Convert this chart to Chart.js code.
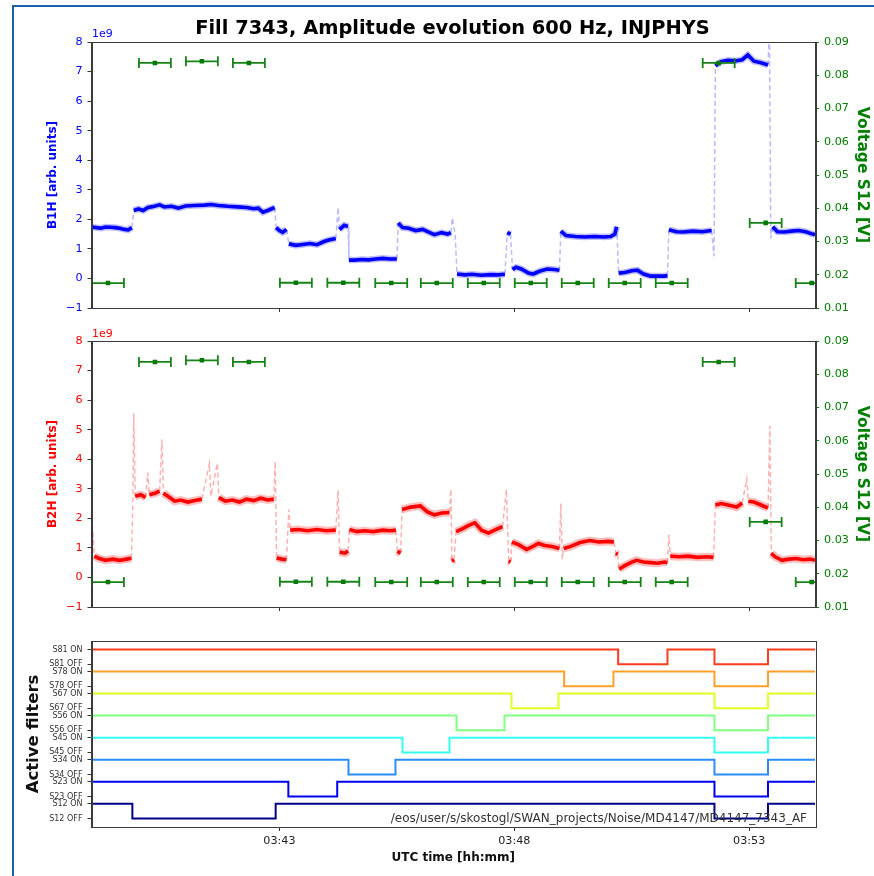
<!DOCTYPE html>
<html>
<head>
<meta charset="utf-8">
<script src="https://cdn.jsdelivr.net/npm/chart.js@4.4.1/dist/chart.umd.min.js"></script>
<style>
body { margin: 0; background: #fff; width: 874px; height: 876px; overflow: hidden; position: relative; font-family: 'DejaVu Sans', sans-serif; }
canvas { position: absolute; left: 0; }
.txt { position: absolute; white-space: nowrap; line-height: 1; }
#frame { position: absolute; left: 12px; top: 5px; width: 870px; height: 880px; border-left: 2px solid #1b5fab; border-top: 2px solid #1b5fab; }
#title { left: 0; width: 905px; text-align: center; top: 18px; font-weight: bold; font-size: 19.4px; color: #000; }
#off1 { left: 92px; top: 28px; font-size: 11px; color: #0000ff; }
#off2 { left: 92px; top: 328px; font-size: 11px; color: #ff0000; }
#path { right: 67px; top: 812px; font-size: 12px; color: #333; }
</style>
</head>
<body>
<div id="frame"></div>
<canvas id="c1" width="874" height="320" style="top:0"></canvas>
<canvas id="c2" width="874" height="300" style="top:320px"></canvas>
<canvas id="c3" width="874" height="246" style="top:630px"></canvas>
<div class="txt" id="title">Fill 7343, Amplitude evolution 600 Hz, INJPHYS</div>
<div class="txt" id="off1">1e9</div>
<div class="txt" id="off2">1e9</div>
<div class="txt" id="path">/eos/user/s/skostogl/SWAN_projects/Noise/MD4147/MD4147_7343_AF</div>
<script>
// time axis in minutes after 03:00 UTC
const xMin = 39.0, xMax = 54.4;
const timeTicks = [43, 48, 53];
const ampTicks = [-1, 0, 1, 2, 3, 4, 5, 6, 7, 8];
const voltTicks = [0.01, 0.02, 0.03, 0.04, 0.05, 0.06, 0.07, 0.08, 0.09];

// B1H amplitude (units of 1e9)
const b1hTime = [39.00, 39.10, 39.20, 39.30, 39.40, 39.50, 39.60, 39.70, 39.78, 39.86,
  39.90, 40.00, 40.10, 40.20, 40.30, 40.45, 40.55, 40.70, 40.85, 41.00, 41.20, 41.40, 41.55, 41.70, 41.90, 42.10, 42.30, 42.45, 42.55, 42.65, 42.75, 42.90,
  42.93, 43.00, 43.07, 43.15,
  43.20, 43.35, 43.50, 43.65, 43.80, 43.95, 44.05, 44.20,
  44.25, 44.28, 44.38, 44.46,
  44.48, 44.60, 44.75, 44.90, 45.05, 45.20, 45.35, 45.50,
  45.53, 45.62, 45.75, 45.90, 46.05, 46.20, 46.30, 46.45, 46.58, 46.65, 46.68, 46.74,
  46.78, 46.95, 47.10, 47.30, 47.50, 47.65, 47.80,
  47.85, 47.92,
  47.96, 48.04, 48.15, 48.30, 48.40, 48.55, 48.70, 48.85, 48.96,
  48.99, 49.10, 49.30, 49.50, 49.70, 49.90, 50.05, 50.14, 50.18,
  50.22, 50.35, 50.50, 50.62, 50.75, 50.90, 51.05, 51.20, 51.26,
  51.29, 51.45, 51.60, 51.80, 52.00, 52.20,
  52.25, 52.28, 52.40, 52.55, 52.70, 52.85, 52.97, 53.10, 53.25, 53.40,
  53.43, 53.46, 53.50, 53.60, 53.75, 53.90, 54.05, 54.20, 54.35, 54.40];
const b1hValue = [1.74, 1.72, 1.70, 1.74, 1.73, 1.72, 1.70, 1.66, 1.64, 1.72,
  2.30, 2.35, 2.30, 2.40, 2.43, 2.49, 2.42, 2.44, 2.38, 2.45, 2.47, 2.48, 2.50, 2.47, 2.44, 2.42, 2.40, 2.36, 2.38, 2.24, 2.30, 2.40,
  1.72, 1.62, 1.56, 1.66,
  1.17, 1.12, 1.15, 1.18, 1.14, 1.25, 1.30, 1.35,
  2.40, 1.65, 1.80, 1.76,
  0.62, 0.62, 0.64, 0.63, 0.66, 0.68, 0.66, 0.66,
  1.88, 1.72, 1.70, 1.62, 1.66, 1.55, 1.48, 1.55, 1.50, 1.55, 2.05, 1.50,
  0.15, 0.12, 0.14, 0.11, 0.13, 0.12, 0.14,
  1.55, 1.50,
  0.30, 0.38, 0.32, 0.18, 0.15, 0.25, 0.32, 0.30, 0.28,
  1.60, 1.45, 1.42, 1.40, 1.42, 1.40, 1.42, 1.50, 1.75,
  0.18, 0.20, 0.26, 0.28, 0.15, 0.08, 0.08, 0.08, 0.10,
  1.65, 1.58, 1.57, 1.60, 1.58, 1.62,
  0.75, 7.20, 7.33, 7.38, 7.36, 7.40, 7.56, 7.35, 7.30, 7.22,
  8.50, 1.35, 1.75, 1.58, 1.57, 1.60, 1.62, 1.58, 1.50, 1.48];

// B2H amplitude (units of 1e9)
const b2hTime = [39.00, 39.03, 39.06, 39.15, 39.30, 39.45, 39.60, 39.75, 39.85,
  39.88, 39.90, 39.93, 40.05, 40.15, 40.20, 40.23, 40.35, 40.45, 40.50, 40.53, 40.65, 40.77, 40.90, 41.05, 41.20, 41.35, 41.51, 41.54, 41.68, 41.71,
  41.85, 42.00, 42.15, 42.30, 42.45, 42.60, 42.75, 42.88, 42.91,
  42.94, 43.05, 43.15,
  43.20, 43.23, 43.40, 43.60, 43.80, 44.00, 44.20, 44.25,
  44.28, 44.40, 44.46,
  44.49, 44.65, 44.80, 45.00, 45.20, 45.35, 45.48,
  45.51, 45.58,
  45.61, 45.80, 46.00, 46.15, 46.30, 46.45, 46.62, 46.65,
  46.67, 46.72,
  46.76, 46.90, 47.05, 47.16, 47.30, 47.45, 47.60, 47.75, 47.83,
  47.88, 47.92,
  47.95, 48.10, 48.26, 48.40, 48.51, 48.65, 48.80, 48.96, 48.99,
  49.02, 49.05, 49.20, 49.40, 49.60, 49.80, 50.00, 50.12,
  50.16, 50.20,
  50.23, 50.35, 50.50, 50.60, 50.75, 50.90, 51.05, 51.20, 51.26, 51.29,
  51.32, 51.50, 51.70, 51.90, 52.10, 52.24,
  52.28, 52.40, 52.55, 52.73, 52.85, 52.95, 52.98, 53.10, 53.25, 53.40, 53.44,
  53.47, 53.55, 53.70, 53.85, 54.00, 54.15, 54.30, 54.40];
const b2hValue = [0.75, 1.55, 0.72, 0.65, 0.58, 0.62, 0.58, 0.62, 0.65,
  2.55, 5.55, 2.75, 2.80, 2.70, 3.55, 2.80, 2.85, 2.92, 4.67, 2.85, 2.72, 2.58, 2.62, 2.55, 2.60, 2.65, 3.86, 2.75, 3.86, 2.70,
  2.58, 2.62, 2.55, 2.65, 2.60, 2.68, 2.62, 2.65, 3.92,
  0.66, 0.62, 0.60,
  2.30, 1.60, 1.62, 1.58, 1.62, 1.58, 1.60, 2.95,
  0.85, 0.82, 0.90,
  1.62, 1.55, 1.58, 1.55, 1.60, 1.58, 1.60,
  0.88, 0.82,
  2.30, 2.38, 2.42, 2.22, 2.12, 2.18, 2.20, 2.98,
  0.55, 0.60,
  1.55, 1.65, 1.78, 1.85, 1.60, 1.50, 1.62, 1.72, 2.98,
  0.55, 0.52,
  1.20, 1.10, 0.95, 1.05, 1.15, 1.08, 1.05, 0.98, 2.50,
  0.62, 0.98, 1.05, 1.18, 1.25, 1.20, 1.22, 1.20,
  0.82, 0.78,
  0.28, 0.40, 0.52, 0.58, 0.52, 0.50, 0.48, 0.52, 0.50, 1.44,
  0.72, 0.70, 0.72, 0.68, 0.70, 0.68,
  2.45, 2.50, 2.45, 2.38, 2.52, 3.35, 2.58, 2.55, 2.45, 2.35, 5.12,
  0.82, 0.70, 0.58, 0.62, 0.64, 0.60, 0.62, 0.58];

// Voltage S12 [V], one reading per minute, horizontal error of +-20 s
const voltTime = [39.35, 40.35, 41.35, 42.35, 43.35, 44.36, 45.38, 46.35, 47.35, 48.35, 49.35, 50.35, 51.35, 52.35, 53.35, 54.33];
const voltValue = [0.0175, 0.0837, 0.0842, 0.0837, 0.0176, 0.0176, 0.0175, 0.0175, 0.0175, 0.0175, 0.0175, 0.0175, 0.0175, 0.0837, 0.0356, 0.0175];
const voltErr = 0.34;

// Active filters: times at which each filter toggles (starts ON)
const filterNames = ['S12', 'S23', 'S34', 'S45', 'S56', 'S67', 'S78', 'S81'];
const filterColors = ['#00008b', '#0000f5', '#2a8cff', '#33ffee', '#80ff80', '#e2ff1e', '#ffa028', '#ff3c1e'];
const filterSwitches = [
  [39.87, 42.92, 52.26, 53.40],
  [43.19, 44.23, 52.26, 53.40],
  [44.47, 45.47, 52.26, 53.40],
  [45.62, 46.62, 52.26, 53.40],
  [46.77, 47.79, 52.26, 53.40],
  [47.94, 48.94, 52.26, 53.40],
  [49.06, 50.11, 52.26, 53.40],
  [50.21, 51.26, 52.26, 53.40]
];

const FONT = 'DejaVu Sans';
Chart.defaults.font.family = FONT;
Chart.defaults.color = '#222';

const pts = (ts, vs) => ts.map((t, i) => ({ x: t, y: vs[i] }));
const fmtTime = v => '03:' + String(v).padStart(2, '0');
const minus = v => String(v).replace('-', '\u2212');
const isJump = ctx => Math.abs(ctx.p1.parsed.y - ctx.p0.parsed.y) > 0.3;

const frame = {
  id: 'frame',
  afterDraw(chart) {
    const a = chart.chartArea, ctx = chart.ctx;
    ctx.save();
    ctx.strokeStyle = '#3a3a3a';
    ctx.lineWidth = 1;
    ctx.strokeRect(Math.round(a.left) + 0.5, Math.round(a.top) + 0.5, Math.round(a.right - a.left), Math.round(a.bottom - a.top));
    ctx.restore();
  }
};

function xAxis(h, labels) {
  return {
    type: 'linear', min: xMin, max: xMax,
    afterBuildTicks: s => { s.ticks = timeTicks.map(v => ({ value: v })); },
    afterFit: s => { s.height = h; },
    ticks: { display: labels, callback: v => fmtTime(v), color: '#222', font: { size: 11.2 }, padding: 3, maxRotation: 0, autoSkip: false },
    grid: { drawOnChartArea: false, drawTicks: true, tickLength: 4, color: '#333' },
    border: { color: '#3a3a3a' },
    title: labels ? { display: true, text: 'UTC time [hh:mm]', color: '#111', font: { size: 12, weight: 'bold' }, padding: { top: 0, bottom: 10.5 } } : { display: false }
  };
}

function errorBarSets() {
  const bars = voltTime.flatMap((t, i) => [
    { x: t - voltErr, y: voltValue[i] }, { x: t + voltErr, y: voltValue[i] }, { x: t + voltErr, y: null }
  ]);
  return [
    { data: pts(voltTime, voltValue), yAxisID: 'yV', showLine: false, pointStyle: 'rect', pointRadius: 3.2,
      pointBackgroundColor: '#007a00', pointBorderColor: '#007a00', pointBorderWidth: 0 },
    { data: bars, yAxisID: 'yV', borderColor: '#168416', borderWidth: 1.8, spanGaps: false,
      pointStyle: 'line', pointRotation: 90, pointRadius: 5, pointBorderColor: '#168416', pointBorderWidth: 1.8 }
  ];
}

function ampChart(id, time, value, color, halo, faint, label, padTop, xh, core, wide) {
  return new Chart(document.getElementById(id), {
    type: 'line',
    data: {
      datasets: [
        ...errorBarSets(),
        { data: pts(time, value), yAxisID: 'yA', borderColor: color, borderWidth: core, pointRadius: 0,
          segment: {
            borderColor: c => isJump(c) ? faint : undefined,
            borderDash: c => isJump(c) ? [5, 3] : undefined,
            borderWidth: c => isJump(c) ? 1.5 : undefined
          } },
        { data: pts(time, value), yAxisID: 'yA', borderColor: halo, borderWidth: wide, pointRadius: 0,
          segment: { borderColor: c => isJump(c) ? 'rgba(0,0,0,0)' : undefined } }
      ]
    },
    options: {
      responsive: false, animation: false, events: [],
      layout: { padding: { top: padTop, left: 0, right: 0, bottom: 0 } },
      plugins: { legend: { display: false }, tooltip: { enabled: false } },
      scales: {
        x: xAxis(xh, false),
        yA: {
          position: 'left', min: -1, max: 8,
          afterBuildTicks: s => { s.ticks = ampTicks.map(v => ({ value: v })); },
          afterFit: s => { s.width = 91.5; },
          ticks: { color: color, font: { size: 11.2 }, padding: 5, callback: v => minus(v) },
          grid: { drawOnChartArea: false, tickLength: 4, color: '#333' },
          border: { color: '#3a3a3a' },
          title: { display: true, text: label, color: color, font: { size: 12, weight: 'bold' }, padding: { top: 46, bottom: 0 } }
        },
        yV: {
          position: 'right', min: 0.01, max: 0.09,
          afterBuildTicks: s => { s.ticks = voltTicks.map(v => ({ value: v })); },
          afterFit: s => { s.width = 59; },
          ticks: { color: '#008000', font: { size: 11.2 }, padding: 5, callback: v => v.toFixed(2) },
          grid: { drawOnChartArea: false, tickLength: 4, color: '#008000' },
          border: { color: '#3a3a3a' },
          title: { display: true, text: 'Voltage S12 [V]', color: '#008000', font: { size: 15.5, weight: 'bold' }, padding: { top: 2.5, bottom: 0 } }
        }
      }
    },
    plugins: [frame]
  });
}

ampChart('c1', b1hTime, b1hValue, '#0000ff', 'rgba(40,40,255,0.3)', 'rgba(60,60,255,0.35)', 'B1H [arb. units]', 42, 12, 3.6, 6.5);
ampChart('c2', b2hTime, b2hValue, '#ff0000', 'rgba(255,40,40,0.3)', 'rgba(255,60,60,0.4)', 'B2H [arb. units]', 21, 13, 3.6, 8);

// filter panel
const filterTickValues = [], filterTickLabels = [];
filterNames.forEach((n, i) => {
  filterTickValues.push(1.5 * i, 1.5 * i + 1);
  filterTickLabels.push(n + ' OFF', n + ' ON');
});

const filterSets = filterNames.map((n, i) => {
  const on = 1.5 * i + 1, off = 1.5 * i;
  let state = on;
  const d = [{ x: xMin, y: on }];
  filterSwitches[i].forEach(t => { state = state === on ? off : on; d.push({ x: t, y: state }); });
  d.push({ x: xMax, y: state });
  return { data: d, stepped: true, borderColor: filterColors[i], borderWidth: 2, pointRadius: 0 };
});

new Chart(document.getElementById('c3'), {
  type: 'line',
  data: { datasets: filterSets },
  options: {
    responsive: false, animation: false, events: [],
    layout: { padding: { top: 11, left: 0, right: 59, bottom: 0 } },
    plugins: { legend: { display: false }, tooltip: { enabled: false } },
    scales: {
      x: xAxis(49, true),
      y: {
        position: 'left', min: -0.575, max: 12.075,
        afterBuildTicks: s => { s.ticks = filterTickValues.map(v => ({ value: v })); },
        afterFit: s => { s.width = 91.5; },
        ticks: { color: '#333', font: { size: 8 }, padding: 5, autoSkip: false,
          callback: v => filterTickLabels[filterTickValues.indexOf(v)] },
        grid: { drawOnChartArea: false, tickLength: 4, color: '#333' },
        border: { color: '#3a3a3a' },
        title: { display: true, text: 'Active filters', color: '#111', font: { size: 16.5, weight: 'bold' }, padding: { top: 23.4, bottom: 0 } }
      }
    }
  },
  plugins: [frame]
});
</script>
</body>
</html>
